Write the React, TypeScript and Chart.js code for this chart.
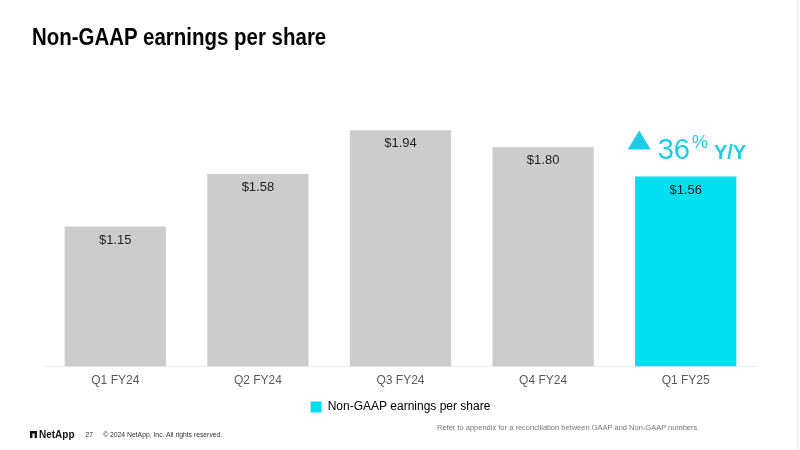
import React, { useEffect, useRef } from "react";
import { Chart, registerables } from "chart.js";

Chart.register(...registerables);

const categories = ["Q1 FY24", "Q2 FY24", "Q3 FY24", "Q4 FY24", "Q1 FY25"];
const epsValues = [1.15, 1.58, 1.94, 1.8, 1.56];
const valueLabels = ["$1.15", "$1.58", "$1.94", "$1.80", "$1.56"];
const seriesName = "Non-GAAP earnings per share";
const growthNumber = "36";
const growthSuffix = "%";
const growthPeriod = "Y/Y";

const GRAY = "#cccccc";
const CYAN = "#00def1";
const CYAN_TEXT = "#1ccde5";

const valueLabelPlugin = {
  id: "valueLabels",
  afterDatasetsDraw(chart: any) {
    const ctx = chart.ctx;
    const meta = chart.getDatasetMeta(0);
    ctx.save();
    ctx.font = "13px 'Liberation Sans', Arial, sans-serif";
    ctx.fillStyle = "#1f1f1f";
    ctx.textAlign = "center";
    ctx.textBaseline = "middle";
    meta.data.forEach((bar: any, i: number) => {
      ctx.fillText(valueLabels[i], bar.x, bar.y + 13.5);
    });

    // growth annotation above last bar
    const last = meta.data[meta.data.length - 1];
    const cx = last.x;
    const top = last.y;
    ctx.fillStyle = CYAN_TEXT;
    ctx.beginPath();
    ctx.moveTo(cx - 58, top - 27);
    ctx.lineTo(cx - 35, top - 27);
    ctx.lineTo(cx - 46.5, top - 46);
    ctx.closePath();
    ctx.fill();

    ctx.textAlign = "left";
    ctx.textBaseline = "alphabetic";
    let x = cx - 28;
    ctx.font = "29px 'Liberation Sans', Arial, sans-serif";
    ctx.fillText(growthNumber, x, top - 18);
    x += ctx.measureText(growthNumber).width + 2;
    ctx.font = "18px 'Liberation Sans', Arial, sans-serif";
    ctx.fillText(growthSuffix, x, top - 29);
    x += ctx.measureText(growthSuffix).width + 6;
    ctx.font = "bold 20px 'Liberation Sans', Arial, sans-serif";
    ctx.fillText(growthPeriod, x, top - 18);
    ctx.restore();
  },
};

export default function App() {
  const canvasRef = useRef<HTMLCanvasElement | null>(null);

  useEffect(() => {
    if (!canvasRef.current) return;
    const chart = new Chart(canvasRef.current, {
      type: "bar",
      data: {
        labels: categories,
        datasets: [
          {
            label: seriesName,
            data: epsValues,
            backgroundColor: epsValues.map((_, i) => (i === epsValues.length - 1 ? CYAN : GRAY)),
            borderWidth: 0,
            categoryPercentage: 1,
            barPercentage: 0.71,
          },
        ],
      },
      options: {
        responsive: false,
        animation: false,
        layout: { padding: { top: 62, left: 44, right: 43, bottom: 27 } },
        scales: {
          x: {
            grid: { display: false, drawTicks: false },
            border: { display: true, color: "#eeeeee", width: 1 },
            ticks: {
              color: "#595959",
              font: { size: 12, family: "'Liberation Sans', Arial, sans-serif" },
              padding: 7,
            },
          },
          y: {
            display: false,
            min: 0,
            max: 2.5,
          },
        },
        plugins: {
          legend: {
            position: "bottom",
            labels: {
              boxWidth: 11,
              boxHeight: 11,
              padding: 6,
              color: "#666666",
              font: { size: 12, family: "'Liberation Sans', Arial, sans-serif" },
              generateLabels: () => [
                {
                  text: seriesName,
                  fillStyle: CYAN,
                  strokeStyle: CYAN,
                  lineWidth: 0,
                  hidden: false,
                  datasetIndex: 0,
                },
              ],
            },
          },
          tooltip: { enabled: false },
        },
      },
      plugins: [valueLabelPlugin],
    });
    return () => chart.destroy();
  }, []);

  return (
    <div
      style={{
        position: "fixed",
        left: 0,
        top: 0,
        width: 800,
        height: 450,
        background: "#ffffff",
        fontFamily: "'Liberation Sans', Arial, sans-serif",
        overflow: "hidden",
      }}
    >
      <canvas ref={canvasRef} width={800} height={450} style={{ position: "absolute", left: 0, top: 0 }} />
      <div
        style={{
          position: "absolute",
          left: 32,
          top: 26,
          fontFamily: "'Liberation Sans', Arial, sans-serif",
          fontWeight: "bold",
          fontSize: 23,
          lineHeight: 1,
          color: "#000000",
          whiteSpace: "nowrap",
          transform: "scaleX(0.89)",
          transformOrigin: "left top",
        }}
      >
        Non-GAAP earnings per share
      </div>
      <div
        style={{
          position: "absolute",
          left: 30,
          top: 429,
          height: 10,
          display: "flex",
          alignItems: "center",
          whiteSpace: "nowrap",
        }}
      >
        <svg width="7" height="7" viewBox="0 0 7 7" style={{ marginRight: 2 }}>
          <path d="M0 0 H7 V7 H4.6 V2.4 H2.4 V7 H0 Z" fill="#111111" />
        </svg>
        <span style={{ fontWeight: "bold", fontSize: 10, color: "#111111" }}>NetApp</span>
        <span style={{ fontSize: 6.8, color: "#333333", marginLeft: 11 }}>27</span>
        <span style={{ fontSize: 6.8, color: "#333333", marginLeft: 10 }}>© 2024 NetApp, Inc. All rights reserved.</span>
      </div>
      <div
        style={{
          position: "absolute",
          left: 437,
          top: 423,
          fontSize: 7.5,
          lineHeight: "10px",
          color: "#777777",
          whiteSpace: "nowrap",
        }}
      >
        Refer to appendix for a reconciliation between GAAP and Non-GAAP numbers
      </div>
      <div style={{ position: "absolute", left: 797, top: 0, width: 1, height: 450, background: "#eeeeee" }} />
    </div>
  );
}
